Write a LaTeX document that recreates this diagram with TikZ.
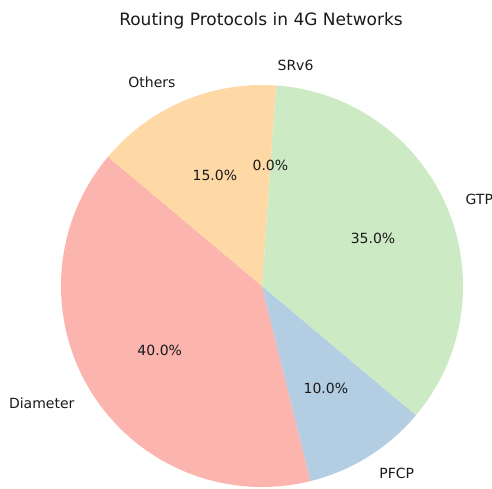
\documentclass[tikz,border=0pt]{standalone}
\usepackage{fontspec}
\setmainfont{DejaVu Sans}
\usetikzlibrary{calc}
\definecolor{pDiam}{HTML}{FBB4AE}
\definecolor{pPfcp}{HTML}{B3CDE3}
\definecolor{pGtp}{HTML}{CCEBC5}
\definecolor{pOth}{HTML}{FED9A6}
\definecolor{txt}{HTML}{1A1A1A}
\begin{document}
\begin{tikzpicture}[x=1pt,y=1pt,
  lbl/.style={inner sep=0pt,text=txt,font=\fontsize{14}{16}\selectfont},
  pct/.style={inner sep=0pt,text=txt,font=\fontsize{14}{16}\selectfont},
  ttl/.style={inner sep=0pt,text=txt,font=\fontsize{17}{20}\selectfont}]
\useasboundingbox[fill=white] (0,0) rectangle (492,488);
\coordinate (c) at (262,202);
% wedges
\fill[pDiam] (c) -- ++(140:201) arc[start angle=140,end angle=284,radius=201] -- cycle;
\fill[pPfcp] (c) -- ++(284:201) arc[start angle=284,end angle=320,radius=201] -- cycle;
\fill[pGtp] (c) -- ++(320:201) arc[start angle=320,end angle=446,radius=201] -- cycle;
\fill[pOth] (c) -- ++(86:201) arc[start angle=86,end angle=140,radius=201] -- cycle;
% outer labels
\node[lbl,anchor=east] (lDiam) at ($(c)+(212:221)$) {Diameter};
\node[lbl,anchor=west] (lPfcp) at ($(c)+(302:221)$) {PFCP};
\node[lbl,anchor=west] (lGtp) at ($(c)+(23:221)$) {GTP};
\node[lbl,anchor=west] (lSrv) at ($(c)+(86:221)$) {SRv6};
\node[lbl,anchor=east] (lOth) at ($(c)+(113:221)$) {Others};
% percentages
\node[pct] (pD) at ($(c)+(212:120.6)$) {40.0\%};
\node[pct] (pP) at ($(c)+(302:120.6)$) {10.0\%};
\node[pct] (pG) at ($(c)+(23:120.6)$) {35.0\%};
\node[pct] (pS) at ($(c)+(86:120.6)$) {0.0\%};
\node[pct] (pO) at ($(c)+(113:120.6)$) {15.0\%};
% title
\node[ttl] (title) at (261,467) {Routing Protocols in 4G Networks};
\end{tikzpicture}
\end{document}
